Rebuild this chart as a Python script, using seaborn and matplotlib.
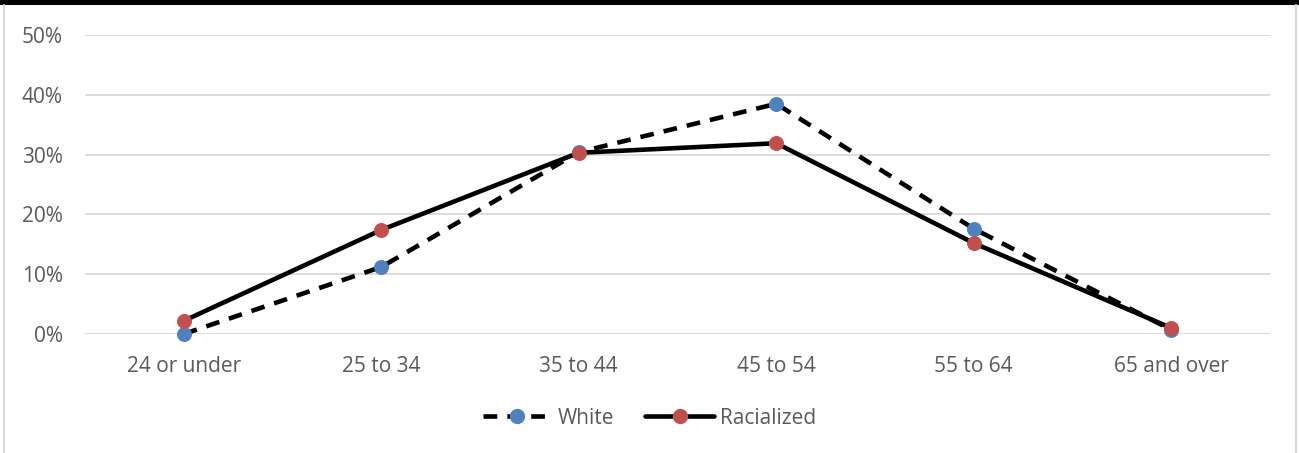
import matplotlib
matplotlib.use("Agg")
import matplotlib.pyplot as plt
from matplotlib.lines import Line2D
from matplotlib.patches import Rectangle
from matplotlib.ticker import PercentFormatter
import seaborn as sns
import pandas as pd

categories = ["24 or under", "25 to 34", "35 to 44", "45 to 54", "55 to 64", "65 and over"]
white = [0.000, 0.112, 0.304, 0.385, 0.176, 0.007]
racialized = [0.022, 0.174, 0.303, 0.319, 0.152, 0.010]
y_ticks = [0.0, 0.1, 0.2, 0.3, 0.4, 0.5]

sns.set_theme(style="white")
plt.rcParams["font.family"] = ["Open Sans", "DejaVu Sans"]

TEXT = "#595959"
BLUE = "#4F81BD"
RED = "#C0504D"

fig = plt.figure(figsize=(12.99, 4.53), dpi=100)
ax = fig.add_axes([85 / 1299, 1 - 334 / 453, (1270 - 85) / 1299, (334 - 35) / 453])

df = pd.DataFrame({"age": categories, "White": white, "Racialized": racialized})

sns.lineplot(data=df, x="age", y="White", ax=ax, color="black", lw=3.3,
             marker="o", markersize=10, markerfacecolor=BLUE,
             markeredgecolor=BLUE, sort=False, zorder=3, clip_on=False)
ax.lines[-1].set_dashes((3, 2.2))
sns.lineplot(data=df, x="age", y="Racialized", ax=ax, color="black", lw=3.3,
             marker="o", markersize=10, markerfacecolor=RED,
             markeredgecolor=RED, sort=False, zorder=4, clip_on=False)

ax.set_xlim(-0.5, len(categories) - 0.5)
ax.set_ylim(0, 0.5)
ax.set_yticks(y_ticks)
ax.yaxis.set_major_formatter(PercentFormatter(1.0, decimals=0))
ax.grid(axis="y", color="#D9D9D9", lw=1.3)
ax.grid(axis="x", visible=False)
ax.set_axisbelow(True)
for s in ax.spines.values():
    s.set_visible(False)
ax.set_xlabel("")
ax.set_ylabel("")
ax.tick_params(axis="both", length=0, labelsize=15, labelcolor=TEXT)
ax.tick_params(axis="x", pad=16)
ax.tick_params(axis="y", pad=16)

handles = [
    Line2D([], [], color="black", lw=3.3, dashes=(3, 2.2), marker="o", markersize=10,
           markerfacecolor=BLUE, markeredgecolor=BLUE),
    Line2D([], [], color="black", lw=3.3, marker="o", markersize=10,
           markerfacecolor=RED, markeredgecolor=RED),
]
fig.legend(handles, ["White", "Racialized"], loc="center", bbox_to_anchor=(0.5, 1 - 418 / 453),
           ncol=2, frameon=False, fontsize=15, labelcolor=TEXT, handlelength=3.3,
           columnspacing=1.5, handletextpad=0.3)

# frame: black band on top, light border on the sides
fig.patches.append(Rectangle((0, 1 - 5 / 453), 1, 5 / 453, transform=fig.transFigure,
                             facecolor="black", edgecolor="none"))
fig.lines.append(Line2D([4 / 1299, 4 / 1299], [0, 1 - 5 / 453], transform=fig.transFigure,
                        color="#D9D9D9", lw=1.5))
fig.lines.append(Line2D([1296 / 1299, 1296 / 1299], [0, 1 - 5 / 453], transform=fig.transFigure,
                        color="#D9D9D9", lw=1.5))

fig.savefig("out.png", dpi=100)
